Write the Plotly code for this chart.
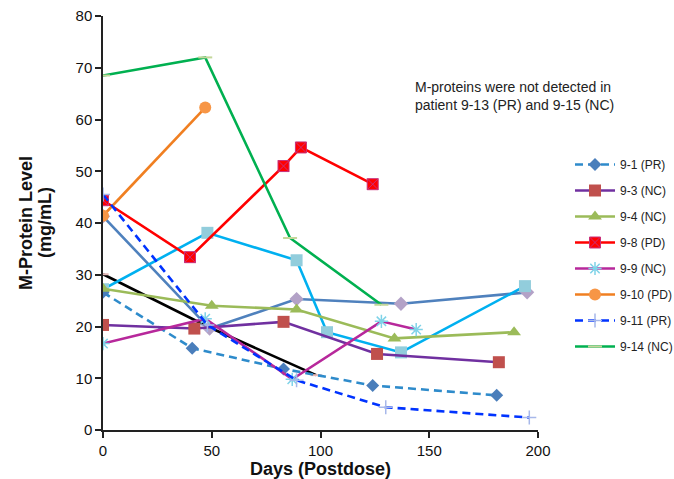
import plotly.graph_objects as go

# ---- data (days, mg/mL) ----
p91_x = [0, 41, 83, 124, 181]
p91_y = [26.6, 15.8, 11.8, 8.6, 6.7]
p93_x = [0, 42, 83, 126, 182]
p93_y = [20.3, 19.6, 20.9, 14.7, 13.1]
p94_x = [0, 50, 89, 134, 189]
p94_y = [27.3, 24.0, 23.3, 17.7, 18.9]
p98_x = [0, 40, 83, 91, 124]
p98_y = [44.4, 33.4, 51.0, 54.6, 47.5]
p99_x = [0, 47, 87, 128, 144]
p99_y = [16.7, 21.5, 9.8, 21.0, 19.4]
p910_x = [0, 47]
p910_y = [41.4, 62.3]
p911_x = [0, 48, 89, 130, 196]
p911_y = [45.5, 20.3, 9.6, 4.4, 2.4]
p914_x = [0, 47, 86, 128]
p914_y = [68.5, 72.0, 37.1, 24.2]
black_x = [0, 49, 98]
black_y = [30.1, 19.8, 10.6]
cyan_x = [0, 48, 89, 103, 137, 194]
cyan_y = [27.2, 38.1, 32.8, 18.9, 15.0, 27.8]
steel_x = [0, 49, 89, 137, 195]
steel_y = [41.3, 19.6, 25.3, 24.4, 26.6]

FONT = "Liberation Sans, Arial, sans-serif"

L, R, T, B = 103, 538, 16, 430
W, H = 674, 479

def px_x(p):
    return (p - L) / (R - L)

def px_y(p):
    return (B - p) / (B - T)

fig = go.Figure()

def add(x, y, name, lc, sym, mc, ms, dash="solid", show=True, mline=None, lw=2.6):
    marker = dict(symbol=sym, color=mc, size=ms)
    if mline:
        marker["line"] = mline
    fig.add_trace(go.Scatter(
        x=x, y=y, name=name, mode="lines+markers",
        line=dict(color=lc, width=lw, dash=dash),
        marker=marker, showlegend=show, legendgroup=name,
    ))

# unlabeled series (drawn first)
add(black_x, black_y, "other-black", "#000000", "line-ew-open", "#E6B9B8", 8,
    show=False, mline=dict(color="#E6B9B8", width=2))
add(steel_x, steel_y, "other-steel", "#4F81BD", "diamond", "#B3A2C7", 11, show=False)
add(cyan_x, cyan_y, "other-cyan", "#00B0F0", "square", "#92CDDC", 12, show=False)

add(p91_x, p91_y, "9-1 (PR)", "#2E8BCB", "diamond", "#4A7EBB", 10, dash="8px,5px")
add(p93_x, p93_y, "9-3 (NC)", "#7030A0", "square", "#C0504D", 12)
add(p94_x, p94_y, "9-4 (NC)", "#9BBB59", "triangle-up", "#9BBB59", 12)
add(p98_x, p98_y, "9-8 (PD)", "#FF0000", "square-x", "#FF0000", 11,
    mline=dict(color="#C8307A", width=1))
add(p99_x, p99_y, "9-9 (NC)", "#B7289B", "asterisk-open", "#7FD3E8", 11,
    mline=dict(color="#7FD3E8", width=1.5))
add(p910_x, p910_y, "9-10 (PD)", "#F07F21", "circle", "#F79646", 12)
add(p911_x, p911_y, "9-11 (PR)", "#0033FF", "cross-thin-open", "#A7B8EA", 10,
    dash="8px,5px", mline=dict(color="#A7B8EA", width=1.5))
add(p914_x, p914_y, "9-14 (NC)", "#00B050", "line-ew-open", "#C4D79B", 10,
    mline=dict(color="#C4D79B", width=2))

fig.add_annotation(
    x=px_x(413), y=px_y(96), xref="paper", yref="paper",
    text="M-proteins were not detected in<br>patient 9-13 (PR) and 9-15 (NC)",
    showarrow=False, align="left", xanchor="left", yanchor="middle",
    font=dict(family=FONT, size=14, color="#222222"),
)

# y-axis title as two tightly spaced rotated lines
for txt, xp in [("<b>M-Protein Level</b>", 26), ("<b>(mg/mL)</b>", 45)]:
    fig.add_annotation(
        x=px_x(xp), y=px_y(223), xref="paper", yref="paper",
        text=txt, textangle=-90, showarrow=False,
        xanchor="center", yanchor="middle",
        font=dict(family=FONT, size=18, color="#111111"),
    )

fig.update_layout(
    width=W, height=H,
    margin=dict(l=L, r=W - R, t=T, b=H - B, autoexpand=False),
    paper_bgcolor="white", plot_bgcolor="white",
    font=dict(family=FONT, size=15, color="#111111"),
    legend=dict(
        x=px_x(570), y=px_y(150), xanchor="left", yanchor="top",
        font=dict(family=FONT, size=12, color="#222222"),
        tracegroupgap=7, bgcolor="rgba(0,0,0,0)",
        itemwidth=40,
    ),
    xaxis=dict(
        range=[0, 200], tickvals=[0, 50, 100, 150, 200],
        showline=True, linecolor="#222222", linewidth=1.5,
        ticks="outside", ticklen=6, tickcolor="#222222", tickwidth=1.5,
        showgrid=False, zeroline=False,
        tickfont=dict(family=FONT, size=15),
        title=dict(text="<b>Days (Postdose)</b>", standoff=8,
                   font=dict(family=FONT, size=18)),
    ),
    yaxis=dict(
        range=[0, 80], tickvals=[0, 10, 20, 30, 40, 50, 60, 70, 80],
        showline=True, linecolor="#222222", linewidth=1.5,
        ticks="outside", ticklen=6, tickcolor="#222222", tickwidth=1.5,
        showgrid=False, zeroline=False,
        tickfont=dict(family=FONT, size=15),
    ),
)

fig.write_html("out.html")
